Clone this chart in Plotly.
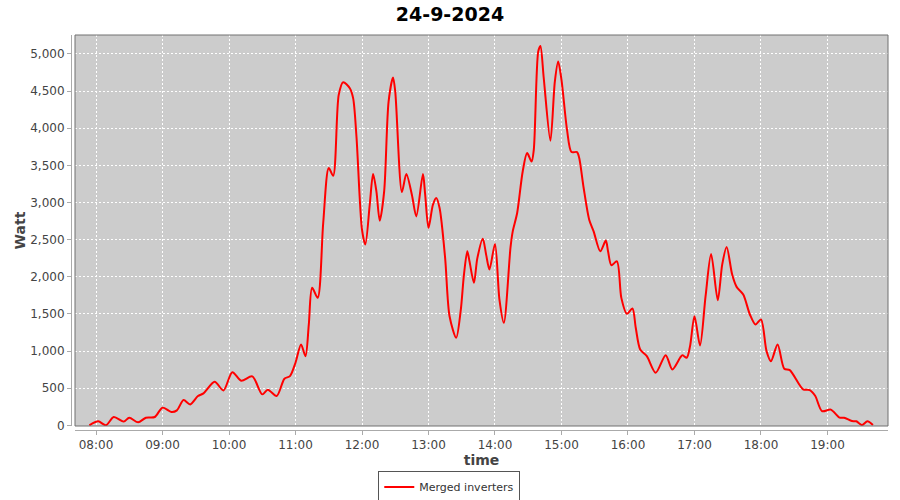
import plotly.graph_objects as go

date = "2024-09-24"
times = [
    "07:54", "08:02", "08:09", "08:16", "08:25", "08:30", "08:38", "08:45", "08:53",
    "09:00", "09:08", "09:13", "09:19", "09:25", "09:32", "09:37", "09:47", "09:55",
    "10:03", "10:11", "10:21", "10:30", "10:35", "10:43", "10:50", "10:55",
    "11:00", "11:05", "11:09", "11:12", "11:15", "11:20", "11:25", "11:30", "11:34",
    "11:39", "11:43", "11:49", "11:52", "11:55",
    "12:00", "12:03", "12:07", "12:10", "12:13", "12:16", "12:20", "12:24", "12:28",
    "12:30", "12:36", "12:40", "12:45", "12:49", "12:55", "12:57",
    "13:00", "13:04", "13:07", "13:10", "13:15", "13:19", "13:25", "13:29", "13:32",
    "13:35", "13:37", "13:41", "13:44", "13:49", "13:52", "13:55",
    "14:00", "14:04", "14:08", "14:14", "14:16", "14:20", "14:25", "14:29", "14:33",
    "14:35", "14:39", "14:41", "14:44", "14:50", "14:54", "14:57",
    "15:00", "15:05", "15:09", "15:14", "15:16", "15:20", "15:25", "15:29", "15:35",
    "15:40", "15:42", "15:45", "15:50", "15:54", "15:59",
    "16:04", "16:07", "16:11", "16:17", "16:25", "16:34", "16:40", "16:47", "16:49",
    "16:53", "16:56",
    "17:00", "17:05", "17:10", "17:15", "17:21", "17:25", "17:29", "17:34", "17:38",
    "17:44", "17:50", "17:55",
    "18:00", "18:05", "18:09", "18:15", "18:21", "18:26", "18:38", "18:44", "18:49",
    "18:55", "19:03", "19:11", "19:15", "19:22", "19:26", "19:31", "19:36", "19:41",
]
watts = [
    0, 54, 0, 112, 50, 103, 40, 103, 112,
    238, 180, 202, 340, 282, 394, 430, 587, 470,
    716, 600, 659, 417, 480, 394, 628, 663,
    843, 1089, 931, 1357, 1851, 1716, 2724, 3464, 3360,
    4449, 4620, 4539, 4405, 3889,
    2634, 2433, 2970, 3383, 3150, 2755, 3150, 4359, 4682,
    4493, 3140, 3383, 3105, 2813, 3383, 3105,
    2657, 2970, 3060, 2926, 2254, 1469, 1179, 1536, 2030,
    2343, 2208, 1918, 2245, 2513, 2298, 2097,
    2442, 1694, 1380, 2397, 2612, 2859, 3418, 3665, 3553,
    3710, 5031, 5108, 4673, 3831, 4628, 4897,
    4651, 3978, 3679, 3679, 3598, 3195, 2769, 2612, 2343,
    2487, 2343, 2155, 2208, 1716, 1501,
    1573, 1313, 1022, 931, 708, 945, 753, 910, 945,
    910, 1066,
    1469, 1075, 1738, 2307, 1684, 2164, 2402, 2030, 1864,
    1761, 1492, 1358,
    1425, 999, 864, 1089, 762, 743, 484, 474, 394,
    192, 211, 103, 103, 58, 54, 4, 54, 4,
]
hour_ticks = ["08:00", "09:00", "10:00", "11:00", "12:00", "13:00", "14:00",
              "15:00", "16:00", "17:00", "18:00", "19:00"]
y_ticks = [0, 500, 1000, 1500, 2000, 2500, 3000, 3500, 4000, 4500, 5000]
series_name = "Merged inverters"
title = "24-9-2024"

x = [f"{date} {t}:00" for t in times]

fig = go.Figure()
fig.add_trace(go.Scatter(
    x=x, y=watts, mode="lines", name=series_name,
    line=dict(color="#FF0000", width=2, shape="spline", smoothing=0.8),
))

font_family = "DejaVu Sans"
fig.update_layout(
    width=900, height=500,
    paper_bgcolor="white", plot_bgcolor="#CCCCCC",
    margin=dict(l=71, r=12, t=35, b=70, autoexpand=False),
    title=dict(text=f"<b>{title}</b>", x=0.5, xanchor="center", xref="container",
               y=0.972, yref="container", yanchor="middle",
               font=dict(family=font_family, size=19, color="black")),
    font=dict(family=font_family, size=12, color="#444444"),
    showlegend=True,
    legend=dict(orientation="h", x=0.463, xanchor="center", y=-0.144, yanchor="middle",
                bgcolor="white", bordercolor="#555555", borderwidth=1,
                font=dict(family=font_family, size=11, color="#333333"),
                itemwidth=30, tracegroupgap=0),
    xaxis=dict(
        type="date", domain=[4 / 817, 1],
        range=[f"{date} 07:41:03", f"{date} 19:54:36"],
        tickvals=[f"{date} {t}:00" for t in hour_ticks], ticktext=hour_ticks,
        showgrid=True, gridcolor="white", griddash="2px,2px", gridwidth=1,
        showline=True, linecolor="#AAAAAA", linewidth=1,
        ticks="outside", ticklen=4, tickcolor="#AAAAAA",
        anchor="free", position=0, zeroline=False,
        tickfont=dict(size=12, color="#444444"),
        title=dict(text="<b>time</b>", font=dict(size=14, color="#444444"), standoff=2),
    ),
    yaxis=dict(
        domain=[4 / 395, 1], range=[-9, 5255],
        tickvals=y_ticks, tickformat=",",
        showgrid=True, gridcolor="white", griddash="2px,2px", gridwidth=1,
        showline=True, linecolor="#AAAAAA", linewidth=1,
        ticks="outside", ticklen=4, tickcolor="#AAAAAA",
        anchor="free", position=0, zeroline=False,
        tickfont=dict(size=12, color="#444444"),
        title=dict(text="<b>Watt</b>", font=dict(size=14, color="#444444"), standoff=0),
    ),
)
fig.add_shape(type="rect", xref="x domain", yref="y domain", x0=0, x1=1, y0=0, y1=1,
              line=dict(color="#707070", width=1), fillcolor="rgba(0,0,0,0)", layer="above")

fig.write_html("out.html", config={"displayModeBar": False},
               post_script="document.body.style.margin='0';document.body.style.padding='0';")
